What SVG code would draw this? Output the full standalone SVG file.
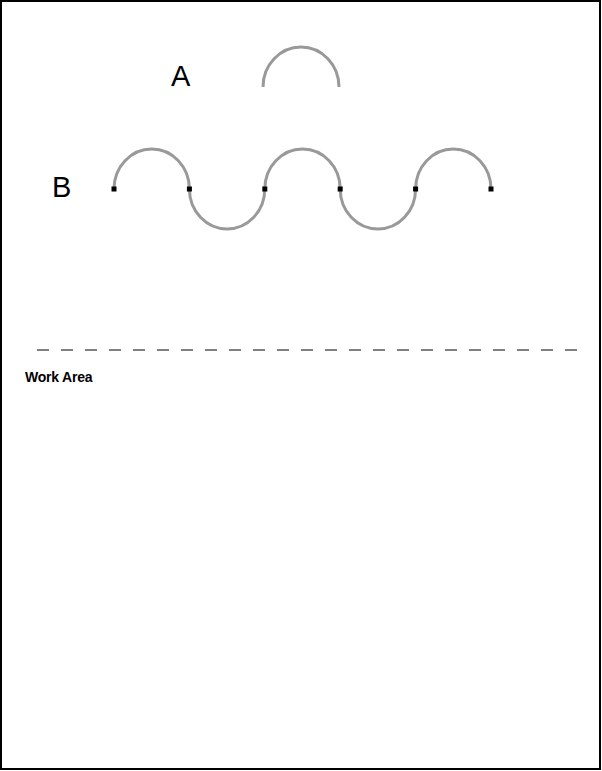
<svg xmlns="http://www.w3.org/2000/svg" width="602" height="771" viewBox="0 0 602 771">
<style>
.arc{fill:none;stroke:#999;stroke-width:3}
.lbl{font-family:"Liberation Sans",Arial,sans-serif;font-size:29px;fill:#000}
.pt{fill:#000}
</style>
<rect x="1" y="1" width="599" height="768" fill="#fff" stroke="#000" stroke-width="2"/>
<g id="A">
<text class="lbl" x="171" y="86">A</text>
<path class="arc" d="M263,87 A38,40 0 0 1 339,87"/>
</g>
<g id="B">
<text class="lbl" x="52" y="197">B</text>
<path class="arc" d="M114,189 A37.7,40 0 0 1 189.4,189 A37.7,40 0 0 0 264.8,189 A37.7,40 0 0 1 340.2,189 A37.7,40 0 0 0 415.6,189 A37.7,40 0 0 1 491,189"/>
<rect class="pt" x="111.5" y="186.5" width="5" height="5"/>
<rect class="pt" x="186.9" y="186.5" width="5" height="5"/>
<rect class="pt" x="262.3" y="186.5" width="5" height="5"/>
<rect class="pt" x="337.7" y="186.5" width="5" height="5"/>
<rect class="pt" x="413.1" y="186.5" width="5" height="5"/>
<rect class="pt" x="488.5" y="186.5" width="5" height="5"/>
</g>
<g id="workarea">
<line x1="37" y1="350" x2="577" y2="350" stroke="#808080" stroke-width="2" stroke-dasharray="12 12"/>
<text x="25" y="382" font-family="'Liberation Sans',Arial,sans-serif" font-size="14" letter-spacing="-0.2" font-weight="bold" fill="#000">Work Area</text>
</g>
</svg>
